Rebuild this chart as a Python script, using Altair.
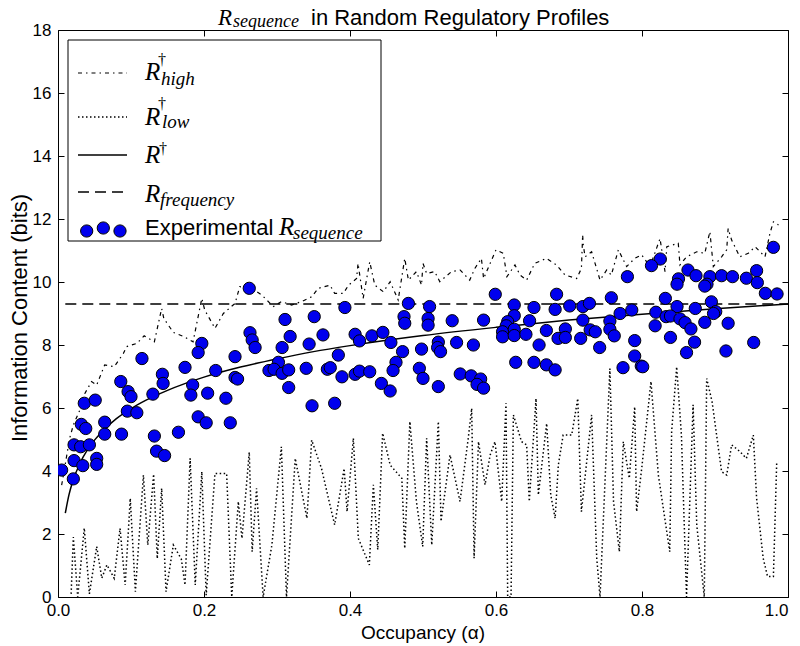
import altair as alt
import pandas as pd

# ---------------- data ----------------
scatter_alpha = [
    0.115, 0.086, 0.096, 0.100, 0.130, 0.036, 0.051, 0.095, 0.108, 0.064, 0.032, 0.038, 0.064,
    0.087, 0.132, 0.022, 0.031, 0.043, 0.022, 0.034, 0.053, 0.053, 0.005, 0.021, 0.135, 0.146,
    0.262, 0.263, 0.197, 0.192, 0.2425, 0.174, 0.216, 0.143, 0.144, 0.2425, 0.246, 0.1845, 0.182,
    0.205, 0.230, 0.192, 0.203, 0.236, 0.165,
    0.311, 0.351, 0.266, 0.270, 0.318, 0.363, 0.344, 0.307, 0.384, 0.302, 0.289, 0.296, 0.307,
    0.316, 0.340, 0.369, 0.373, 0.389, 0.316, 0.348, 0.379,
    0.480, 0.509, 0.393, 0.474, 0.475, 0.507, 0.507, 0.407, 0.413, 0.430, 0.445, 0.456, 0.472,
    0.498, 0.521, 0.520, 0.463, 0.459, 0.495, 0.500, 0.407, 0.413, 0.427, 0.443, 0.455, 0.521,
    0.599, 0.625, 0.652, 0.625, 0.540, 0.583, 0.616, 0.614, 0.609, 0.609, 0.625, 0.625, 0.646,
    0.641, 0.524, 0.546, 0.569, 0.627, 0.652, 0.551, 0.566, 0.579, 0.574, 0.583,
    0.683, 0.758, 0.681, 0.701, 0.719, 0.728, 0.770, 0.780, 0.719, 0.756, 0.669, 0.695, 0.685,
    0.695, 0.716, 0.729, 0.736, 0.756, 0.762, 0.659, 0.742, 0.669, 0.681, 0.774,
    0.825, 0.813, 0.863, 0.874, 0.850, 0.848, 0.893, 0.889, 0.886, 0.909, 0.832, 0.895, 0.786,
    0.819, 0.848, 0.873, 0.833, 0.839, 0.852, 0.859, 0.901, 0.898, 0.886, 0.818, 0.867, 0.790,
    0.839, 0.872, 0.861, 0.790, 0.799, 0.801,
    0.980, 0.924, 0.943, 0.957, 0.958, 0.969, 0.985, 0.918, 0.915, 0.953,
]
scatter_r = [
    7.57, 6.84, 6.52, 6.36, 6.44, 6.15, 6.25, 5.90, 5.85, 5.55, 5.48, 5.35, 5.17,
    5.17, 5.11, 4.83, 4.77, 4.83, 4.33, 4.17, 4.40, 4.21, 4.03, 3.75, 4.63, 4.49,
    9.80, 8.39, 8.05, 7.76, 7.63, 7.29, 7.19, 7.07, 6.78, 6.97, 6.92, 6.73, 6.41,
    6.47, 6.31, 5.72, 5.53, 5.53, 5.23,
    8.81, 8.90, 8.16, 7.92, 8.27, 8.32, 8.03, 7.92, 7.68, 7.45, 7.19, 7.23, 7.10,
    7.21, 7.26, 7.23, 7.28, 6.99, 6.65, 6.07, 6.15,
    9.32, 9.22, 9.19, 8.90, 8.69, 8.84, 8.63, 8.34, 8.13, 8.29, 8.40, 8.08, 7.79,
    7.87, 8.09, 7.92, 7.45, 7.19, 7.26, 6.94, 7.07, 7.17, 7.15, 6.78, 6.54, 6.68,
    9.61, 9.27, 9.19, 8.93, 8.77, 8.79, 8.74, 8.61, 8.42, 8.26, 8.50, 8.30, 8.77,
    8.34, 7.79, 8.08, 8.00, 7.45, 7.45, 7.08, 7.02, 6.92, 6.75, 6.63,
    9.61, 9.50, 9.13, 9.24, 9.22, 9.32, 9.00, 10.17, 8.79, 8.76, 8.46, 8.51, 8.21,
    8.24, 8.21, 8.48, 8.42, 8.50, 8.29, 8.00, 7.92, 7.37, 7.21, 7.28,
    10.73, 10.52, 10.38, 10.20, 10.10, 9.93, 10.17, 9.93, 9.87, 10.20, 9.48, 9.37, 9.11,
    9.04, 9.22, 9.16, 8.90, 8.92, 8.83, 8.71, 9.06, 9.00, 8.72, 8.61, 8.51, 8.14,
    8.24, 8.09, 7.76, 7.65, 7.33, 7.31,
    11.10, 10.17, 10.12, 10.36, 9.98, 9.64, 9.62, 8.69, 7.81, 8.08,
]

high_alpha = [
    0.005, 0.016, 0.021, 0.030, 0.037, 0.046, 0.053, 0.064, 0.077, 0.0895, 0.094, 0.108, 0.118,
    0.132, 0.142, 0.145, 0.158, 0.172, 0.185, 0.197, 0.201, 0.215, 0.2265, 0.2425, 0.249, 0.265,
    0.279, 0.295, 0.306, 0.320, 0.334, 0.3475, 0.3566, 0.3726, 0.379, 0.391, 0.398, 0.409, 0.411,
    0.418, 0.427, 0.434, 0.4457, 0.455, 0.466, 0.475, 0.480, 0.491, 0.498, 0.500, 0.505, 0.516,
    0.523, 0.539, 0.551, 0.564, 0.571, 0.580, 0.583, 0.594, 0.600, 0.610, 0.615, 0.626, 0.633,
    0.642, 0.653, 0.669, 0.683, 0.6945, 0.7105, 0.717, 0.7187, 0.7196, 0.722, 0.731, 0.7425,
    0.7516, 0.758, 0.7676, 0.779, 0.790, 0.7996, 0.811, 0.8247, 0.8315, 0.834, 0.8497, 0.852,
    0.861, 0.8749, 0.886, 0.893, 0.895, 0.8977, 0.909, 0.916, 0.918, 0.9228, 0.934, 0.9456,
    0.955, 0.9685, 0.9753, 0.980, 0.987,
]
high_r = [
    3.55, 5.04, 5.46, 5.94, 6.47, 6.84, 6.73, 7.37, 7.31, 7.73, 7.95, 8.05, 8.29,
    8.10, 9.16, 8.84, 8.40, 8.27, 8.10, 9.48, 9.11, 8.53, 9.00, 9.32, 9.85, 9.80,
    9.59, 9.22, 9.38, 9.27, 9.38, 9.53, 9.80, 9.90, 9.64, 9.64, 9.90, 10.11, 10.59,
    9.48, 10.64, 9.90, 9.69, 10.01, 9.43, 10.75, 10.06, 10.33, 9.90, 10.59, 10.27, 10.33,
    10.01, 10.33, 10.38, 10.06, 10.43, 10.75, 10.11, 10.70, 11.02, 10.91, 10.17, 10.54, 10.22,
    10.06, 10.59, 10.75, 10.54, 10.22, 10.11, 10.43, 11.49, 11.17, 10.80, 10.96, 10.06,
    10.38, 10.22, 11.02, 10.49, 10.75, 10.86, 10.49, 11.38, 10.33, 11.12, 11.23, 10.54,
    10.80, 10.96, 10.91, 11.60, 11.12, 10.49, 10.80, 11.02, 11.70, 11.33, 10.80, 10.91,
    11.12, 10.80, 11.55, 11.91, 11.81,
]

low_alpha = [
    0.018, 0.021, 0.027, 0.036, 0.043, 0.053, 0.060, 0.067, 0.077, 0.085, 0.092, 0.099, 0.106,
    0.117, 0.123, 0.131, 0.136, 0.142, 0.148, 0.158, 0.169, 0.174, 0.181, 0.188, 0.197, 0.203,
    0.215, 0.231, 0.238, 0.247, 0.252, 0.262, 0.266, 0.272, 0.281, 0.293, 0.306, 0.313, 0.325,
    0.341, 0.3475, 0.361, 0.3726, 0.379, 0.392, 0.396, 0.4046, 0.4114, 0.4265, 0.432, 0.438,
    0.4447, 0.455, 0.471, 0.475, 0.482, 0.491, 0.4996, 0.505, 0.512, 0.521, 0.5247, 0.537,
    0.5507, 0.562, 0.5667, 0.570, 0.576, 0.585, 0.592, 0.5986, 0.6078, 0.6137, 0.616, 0.6206,
    0.6238, 0.635, 0.642, 0.6456, 0.6548, 0.658, 0.6694, 0.675, 0.681, 0.6854, 0.692, 0.7037,
    0.712, 0.717, 0.731, 0.738, 0.7425, 0.756, 0.761, 0.769, 0.7744, 0.7826, 0.790, 0.7926,
    0.7996, 0.8123, 0.8224, 0.838, 0.8406, 0.8475, 0.854, 0.861, 0.870, 0.875, 0.8853, 0.8886,
    0.896, 0.909, 0.916, 0.9228, 0.934, 0.943, 0.9525, 0.957, 0.966, 0.972, 0.980, 0.9845,
]
low_r = [
    0.10, 1.90, 0.00, 2.19, 0.10, 1.60, 0.60, 1.02, 0.59, 2.18, 0.38, 3.13, 0.17,
    3.87, 1.65, 3.90, 1.22, 3.45, 0.17, 1.65, 1.20, 0.38, 4.40, 0.38, 3.98, 0.06,
    3.92, 3.92, 0.00, 3.03, 1.86, 4.60, 1.44, 3.45, 0.00, 1.65, 4.77, 0.00, 4.40,
    2.50, 4.98, 4.08, 2.92, 2.29, 4.08, 2.71, 5.04, 1.86, 1.02, 3.56, 1.50,
    5.20, 4.19, 3.77, 1.54, 5.57, 3.03, 1.60, 5.04, 1.65, 5.57, 2.40, 4.51,
    3.03, 5.04, 5.99, 1.23, 4.93, 3.56, 4.51, 4.93, 3.03, 6.15, 0.00, 0.00,
    5.78, 4.93, 4.83, 3.03, 6.30, 3.24, 5.51, 3.24, 2.50, 4.19, 5.14, 5.14,
    6.30, 2.71, 5.78, 1.23, 0.00, 7.25, 3.03, 1.44, 4.93, 3.77, 6.04, 2.71,
    4.08, 6.84, 3.87, 1.44, 5.25, 7.31, 5.14, 0.00, 6.10, 2.29, 0.00, 6.94,
    6.20, 3.98, 3.87, 4.83, 4.62, 4.40, 5.14, 3.13, 1.23, 0.65, 0.65, 4.25,
]

dagger_alpha = [0.01, 0.015, 0.02, 0.03, 0.04, 0.05, 0.06, 0.08, 0.10, 0.12, 0.15, 0.20,
                0.25, 0.30, 0.35, 0.40, 0.50, 0.60, 0.70, 0.80, 0.90, 1.00]
dagger_r = [2.66, 3.24, 3.66, 4.24, 4.66, 4.98, 5.24, 5.66, 5.98, 6.24, 6.56, 6.98,
            7.30, 7.56, 7.79, 7.98, 8.30, 8.56, 8.79, 8.98, 9.15, 9.30]

freq_alpha = [0.01, 1.0]
freq_r = [9.3, 9.3]

x_ticks = [0.0, 0.2, 0.4, 0.6, 0.8, 1.0]
y_ticks = [0, 2, 4, 6, 8, 10, 12, 14, 16, 18]

title_parts = ["R", "sequence", "in Random Regulatory Profiles"]
x_title = "Occupancy (α)"
y_title = "Information Content (bits)"
legend_subs = ["high", "low", "", "frequency", "sequence"]
legend_word = "Experimental"

# ---------------- styling ----------------
W, H = 730, 567
SANS = "Liberation Sans"
SERIF = "Liberation Serif"
BLUE = "#0000ee"
DASHDOT = [4, 4, 1.5, 4]
DOTTED = [1.5, 2.5]
DASHED = [11, 6]

xs = alt.Scale(domain=[0, 1], nice=False, zero=False)
ys = alt.Scale(domain=[0, 18], nice=False, zero=False)


def tick_axis(orient, offset, values):
    return alt.Axis(orient=orient, offset=offset, values=values, labels=False, ticks=True,
                    tickSize=6, tickColor="black", tickWidth=1, domain=False, grid=False,
                    title=None)


def frame(a, r):
    return pd.DataFrame({"a": a, "r": r})


high = alt.Chart(frame(high_alpha, high_r)).mark_line(
    color="black", strokeWidth=1.2, strokeDash=DASHDOT, clip=True
).encode(
    x=alt.X("a:Q", scale=xs, axis=tick_axis("top", -H, x_ticks)),
    y=alt.Y("r:Q", scale=ys, axis=tick_axis("right", -W, y_ticks)),
)

low = alt.Chart(frame(low_alpha, low_r)).mark_line(
    color="black", strokeWidth=1.5, strokeDash=DOTTED, clip=True
).encode(
    x=alt.X("a:Q", scale=xs, axis=tick_axis("bottom", -H, x_ticks)),
    y=alt.Y("r:Q", scale=ys, axis=tick_axis("left", -W, y_ticks)),
)

dag = alt.Chart(frame(dagger_alpha, dagger_r)).mark_line(
    color="black", strokeWidth=1.5, interpolate="monotone", clip=True
).encode(
    x=alt.X("a:Q", scale=xs, axis=None),
    y=alt.Y("r:Q", scale=ys, axis=None),
)

freq = alt.Chart(frame(freq_alpha, freq_r)).mark_line(
    color="black", strokeWidth=1.5, strokeDash=DASHED, clip=True
).encode(
    x=alt.X("a:Q", scale=xs, axis=None),
    y=alt.Y("r:Q", scale=ys, axis=None),
)

pts = alt.Chart(frame(scatter_alpha, scatter_r)).mark_point(
    shape="circle", filled=True, fill=BLUE, fillOpacity=1, stroke="black", strokeWidth=1,
    size=150, opacity=1, clip=True
).encode(
    x=alt.X("a:Q", scale=xs, axis=alt.Axis(
        orient="bottom", values=x_ticks, format=".1f", ticks=False, domain=False, grid=False,
        labelFont=SANS, labelFontSize=17, labelColor="black", labelPadding=5,
        labelFlush=False,
        labelAlign={"condition": {"test": "datum.value >= 1", "value": "right"},
                    "value": "center"},
        title=None)),
    y=alt.Y("r:Q", scale=ys, axis=alt.Axis(
        orient="left", values=y_ticks, format="d", ticks=False, domain=False, grid=False,
        labelFont=SANS, labelFontSize=17, labelColor="black", labelPadding=7,
        labelFlush=False, title=None)),
)

one = pd.DataFrame({"k": [0]})


def txt(s, x, y, size, font, italic=False, align="left", angle=0, baseline="alphabetic"):
    return alt.Chart(one).mark_text(
        text=s, align=align, baseline=baseline, font=font, fontSize=size, angle=angle,
        fontStyle="italic" if italic else "normal", color="black"
    ).encode(x=alt.value(x), y=alt.value(y))


def rule(x1, x2, y, dash, width):
    kw = dict(color="black", strokeWidth=width)
    if dash:
        kw["strokeDash"] = dash
    return alt.Chart(one).mark_rule(**kw).encode(
        x=alt.value(x1), x2=alt.value(x2), y=alt.value(y))


def dot(x, y):
    return alt.Chart(one).mark_point(
        shape="circle", filled=True, fill=BLUE, fillOpacity=1, stroke="black",
        strokeWidth=1, size=150, opacity=1
    ).encode(x=alt.value(x), y=alt.value(y))


box = alt.Chart(one).mark_rect(fill="white", stroke="black", strokeWidth=1).encode(
    x=alt.value(10), x2=alt.value(323), y=alt.value(10), y2=alt.value(211))

legend = [
    box,
    rule(20, 69, 43, DASHDOT, 1.2),
    txt("R", 87, 50, 25, SERIF, True), txt("†", 100, 35, 16, SERIF),
    txt(legend_subs[0], 103, 55, 19, SERIF, True),
    rule(20, 69, 87, DOTTED, 1.5),
    txt("R", 87, 95, 25, SERIF, True), txt("†", 100, 79, 16, SERIF),
    txt(legend_subs[1], 104, 98, 19, SERIF, True),
    rule(20, 69, 125, None, 1.5),
    txt("R", 87, 133, 25, SERIF, True), txt("†", 101, 124, 16, SERIF),
    rule(20, 69, 162, DASHED, 1.5),
    txt("R", 87, 172, 25, SERIF, True),
    txt(legend_subs[3], 102, 176, 19, SERIF, True),
    dot(28.7, 201), dot(45.3, 198), dot(62, 201),
    txt(legend_word, 87, 205, 22, SANS),
    txt("R", 221, 205, 25, SERIF, True),
    txt(legend_subs[4], 235, 209, 19, SERIF, True),
]

titles = [
    txt(title_parts[0], 160, -5, 23, SERIF, True),
    txt(title_parts[1], 175, -3, 18, SERIF, True),
    txt(title_parts[2], 253, -5, 22, SANS),
    txt(x_title, 365, 609, 19, SANS, align="center"),
    txt(y_title, -38, 288, 22, SANS, align="center", angle=270, baseline="middle"),
]

chart = alt.layer(high, low, dag, freq, pts, *legend, *titles).resolve_axis(
    x="independent", y="independent"
).properties(
    width=W, height=H, autosize="none",
    padding={"left": 50, "top": 22, "right": 4, "bottom": 48},
).configure_view(stroke="black", strokeWidth=1)

chart.save("out.html", embed_options={"renderer": "svg", "actions": False})
